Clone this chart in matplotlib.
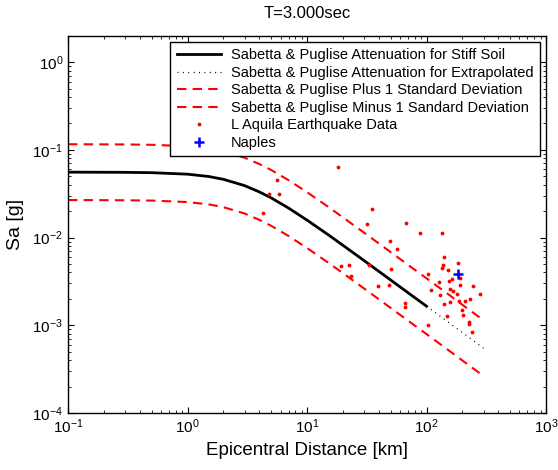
import matplotlib
matplotlib.use("Agg")
import matplotlib.pyplot as plt
from matplotlib.ticker import LogLocator, NullFormatter

plt.rcParams['font.family'] = ['Liberation Sans', 'DejaVu Sans']

# attenuation curve (stiff soil)
dist = [0.1, 0.3, 0.5, 1, 1.5, 2, 3, 4, 5, 7, 10, 15, 20, 30, 50, 70, 100]
sa_stiff = [0.0557, 0.0554, 0.0549, 0.0528, 0.0497, 0.0461, 0.0391, 0.0331, 0.0284,
            0.0217, 0.0158, 0.0108, 0.00815, 0.00547, 0.00329, 0.00235, 0.00165]

# extrapolated part
dist_ext = [100, 150, 200, 300]
sa_ext = [0.00165, 0.00110, 0.000824, 0.000549]

# +/- 1 standard deviation
dist_sd = [0.1, 0.3, 0.5, 1, 1.5, 2, 3, 4, 5, 7, 10, 15, 20, 30, 50, 70, 100, 150, 200, 300]
sa_plus = [0.1159, 0.1152, 0.1142, 0.1098, 0.1034, 0.0959, 0.0813, 0.0688, 0.0591, 0.0451,
           0.0329, 0.0225, 0.01695, 0.01138, 0.00684, 0.00489, 0.00343, 0.00229, 0.00171, 0.00114]
sa_minus = [0.0268, 0.0266, 0.0264, 0.0254, 0.0239, 0.0222, 0.0188, 0.0159, 0.01365, 0.01043,
            0.0076, 0.00519, 0.00392, 0.00263, 0.00158, 0.00113, 0.000793, 0.000529, 0.000396, 0.000264]

# L Aquila earthquake records
eq_dist = [5.58, 4.84, 5.83, 4.31, 18.1, 35.0, 31.8, 49.5, 56.6, 19.4, 22.5, 23.2, 33.0, 50.5,
           39.3, 48.9, 67.4, 88.7, 134, 141, 138, 134, 150, 184, 103, 127, 153, 163, 192, 192,
           247, 281, 110, 130, 157, 168, 179, 158, 141, 187, 209, 233, 198, 201, 228, 228, 240,
           148, 102, 66.1, 66.5]
eq_sa = [0.0455, 0.0315, 0.0313, 0.0190, 0.0645, 0.0214, 0.0143, 0.00925, 0.00738, 0.0048,
         0.00484, 0.00369, 0.00492, 0.00437, 0.00279, 0.00289, 0.0146, 0.0113, 0.0113, 0.00607,
         0.00484, 0.00452, 0.00429, 0.00519, 0.00383, 0.00315, 0.00323, 0.00336, 0.00344, 0.00289,
         0.00281, 0.00226, 0.00254, 0.00224, 0.00258, 0.00249, 0.00228, 0.00183, 0.00177, 0.00190,
         0.00191, 0.00200, 0.00150, 0.00130, 0.00109, 0.00104, 0.000841, 0.00126, 0.00100, 0.00180,
         0.00161]

naples_dist = [184]
naples_sa = [0.00389]

fig = plt.figure(figsize=(5.58, 4.70), dpi=100)
ax = fig.add_axes([0.1219, 0.1213, 0.8566, 0.8027])

ax.loglog(dist, sa_stiff, color='black', linewidth=2.0,
          label='Sabetta & Puglise Attenuation for Stiff Soil')
ax.loglog(dist_ext, sa_ext, color='black', linewidth=0.9, dashes=(0.8, 3.5),
          label='Sabetta & Puglise Attenuation for Extrapolated')
ax.loglog(dist_sd, sa_plus, color='red', linewidth=1.5, dashes=(4.5, 3),
          label='Sabetta & Puglise Plus 1 Standard Deviation')
ax.loglog(dist_sd, sa_minus, color='red', linewidth=1.5, dashes=(4.5, 3),
          label='Sabetta & Puglise Minus 1 Sandard Deviation')
ax.loglog(eq_dist, eq_sa, '.', color='red', markersize=3.5, linestyle='none',
          label='L Aquila Earthquake Data')
ax.loglog(naples_dist, naples_sa, '+', color='blue', markersize=7, markeredgewidth=1.8,
          linestyle='none', label='Naples')

ax.set_xlim(0.1, 1000)
ax.set_ylim(1e-4, 2)

ax.xaxis.set_major_locator(LogLocator(base=10, numticks=10))
ax.yaxis.set_major_locator(LogLocator(base=10, numticks=10))
ax.xaxis.set_minor_locator(LogLocator(base=10, subs=range(2, 10), numticks=20))
ax.yaxis.set_minor_locator(LogLocator(base=10, subs=range(2, 10), numticks=20))
ax.xaxis.set_minor_formatter(NullFormatter())
ax.yaxis.set_minor_formatter(NullFormatter())
ax.tick_params(which='both', direction='in', top=True, right=True, labelsize=11)
ax.tick_params(which='major', length=4, width=0.8)
ax.tick_params(which='minor', length=2, width=0.6)
for s in ax.spines.values():
    s.set_linewidth(1.0)

ax.set_title('T=3.000sec', fontsize=12, pad=13)
ax.set_xlabel('Epicentral Distance [km]', fontsize=13.5)
ax.set_ylabel('Sa [g]', fontsize=14, labelpad=6)

leg = ax.legend(loc='upper right', fontsize=10.5, handlelength=3.0, labelspacing=0.24,
                borderaxespad=0.4, fancybox=False, edgecolor='black', framealpha=1,
                borderpad=0.45, handletextpad=0.7, markerscale=1.0)
leg.get_frame().set_linewidth(1.0)

plt.savefig('out.png', dpi=100)
plt.close()
